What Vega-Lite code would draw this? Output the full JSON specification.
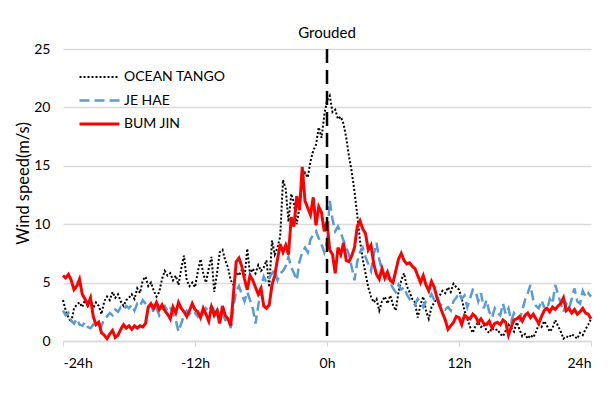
{
  "$schema": "https://vega.github.io/schema/vega-lite/v6.json",
  "width": 528,
  "height": 292,
  "autosize": "none",
  "padding": {"left": 63, "top": 49, "right": 25, "bottom": 52},
  "background": "white",
  "config": {"font": "Lato", "view": {"stroke": null}},
  "datasets": {
    "wind": [
{"t":-24,"ot":3.5,"jh":2.6,"bj":5.6},{"t":-23.75,"ot":2.6,"jh":2.2,"bj":5.4},{"t":-23.5,"ot":2.0,"jh":2.4,"bj":5.7},{"t":-23.25,"ot":1.6,"jh":1.7,"bj":5.2},
{"t":-23,"ot":2.8,"jh":1.5,"bj":4.4},{"t":-22.75,"ot":3.1,"jh":1.9,"bj":4.7},{"t":-22.5,"ot":3.3,"jh":1.4,"bj":5.3},{"t":-22.25,"ot":2.9,"jh":1.3,"bj":4.0},
{"t":-22,"ot":3.5,"jh":1.6,"bj":3.6},{"t":-21.75,"ot":3.0,"jh":1.2,"bj":3.1},{"t":-21.5,"ot":3.6,"jh":1.1,"bj":3.7},{"t":-21.25,"ot":2.8,"jh":1.4,"bj":2.1},
{"t":-21,"ot":3.3,"jh":1.2,"bj":1.4},{"t":-20.75,"ot":3.0,"jh":1.5,"bj":1.6},{"t":-20.5,"ot":2.3,"jh":1.3,"bj":0.7},{"t":-20.25,"ot":3.4,"jh":1.9,"bj":0.5},
{"t":-20,"ot":3.8,"jh":2.1,"bj":0.2},{"t":-19.75,"ot":3.5,"jh":2.4,"bj":0.6},{"t":-19.5,"ot":4.2,"jh":2.2,"bj":0.9},{"t":-19.25,"ot":3.7,"jh":2.7,"bj":0.3},
{"t":-19,"ot":4.0,"jh":2.5,"bj":0.5},{"t":-18.75,"ot":3.4,"jh":2.9,"bj":1.0},{"t":-18.5,"ot":3.0,"jh":2.7,"bj":1.4},{"t":-18.25,"ot":3.5,"jh":3.0,"bj":1.1},
{"t":-18,"ot":3.7,"jh":2.8,"bj":1.3},{"t":-17.75,"ot":4.0,"jh":3.1,"bj":1.0},{"t":-17.5,"ot":3.6,"jh":2.6,"bj":1.3},{"t":-17.25,"ot":4.5,"jh":3.2,"bj":1.1},
{"t":-17,"ot":4.1,"jh":3.0,"bj":1.3},{"t":-16.75,"ot":5.2,"jh":3.5,"bj":1.2},{"t":-16.5,"ot":5.5,"jh":3.2,"bj":1.5},{"t":-16.25,"ot":4.7,"jh":2.9,"bj":2.9},
{"t":-16,"ot":5.0,"jh":3.1,"bj":3.2},{"t":-15.75,"ot":4.3,"jh":2.4,"bj":2.8},{"t":-15.5,"ot":3.8,"jh":2.8,"bj":3.3},{"t":-15.25,"ot":4.2,"jh":2.2,"bj":2.7},
{"t":-15,"ot":5.3,"jh":2.7,"bj":3.1},{"t":-14.75,"ot":6.0,"jh":3.0,"bj":2.6},{"t":-14.5,"ot":5.6,"jh":2.6,"bj":2.3},{"t":-14.25,"ot":5.8,"jh":2.9,"bj":1.9},
{"t":-14,"ot":5.2,"jh":2.3,"bj":2.9},{"t":-13.75,"ot":5.6,"jh":1.8,"bj":2.4},{"t":-13.5,"ot":4.8,"jh":0.8,"bj":3.3},{"t":-13.25,"ot":6.2,"jh":1.5,"bj":2.8},
{"t":-13,"ot":7.3,"jh":2.2,"bj":2.5},{"t":-12.75,"ot":5.2,"jh":2.6,"bj":2.1},{"t":-12.5,"ot":4.7,"jh":2.3,"bj":2.6},{"t":-12.25,"ot":5.0,"jh":2.6,"bj":3.2},
{"t":-12,"ot":4.6,"jh":2.4,"bj":2.7},{"t":-11.75,"ot":5.9,"jh":2.1,"bj":2.5},{"t":-11.5,"ot":7.0,"jh":2.6,"bj":2.0},{"t":-11.25,"ot":5.8,"jh":2.3,"bj":2.8},
{"t":-11,"ot":5.0,"jh":2.8,"bj":2.3},{"t":-10.75,"ot":6.2,"jh":2.5,"bj":1.7},{"t":-10.5,"ot":7.2,"jh":3.0,"bj":2.9},{"t":-10.25,"ot":4.2,"jh":2.6,"bj":2.2},
{"t":-10,"ot":5.8,"jh":2.9,"bj":2.6},{"t":-9.75,"ot":7.6,"jh":2.0,"bj":1.5},{"t":-9.5,"ot":7.8,"jh":2.4,"bj":3.0},{"t":-9.25,"ot":6.9,"jh":1.8,"bj":2.2},
{"t":-9,"ot":6.3,"jh":1.9,"bj":1.9},{"t":-8.75,"ot":5.2,"jh":1.1,"bj":1.3},{"t":-8.5,"ot":4.8,"jh":3.0,"bj":4.1},{"t":-8.25,"ot":5.9,"jh":4.3,"bj":6.8},
{"t":-8,"ot":5.6,"jh":4.7,"bj":7.1},{"t":-7.75,"ot":6.1,"jh":4.0,"bj":6.4},{"t":-7.5,"ot":5.4,"jh":3.4,"bj":5.3},{"t":-7.25,"ot":7.9,"jh":4.2,"bj":4.4},
{"t":-7,"ot":5.7,"jh":3.5,"bj":5.6},{"t":-6.75,"ot":6.2,"jh":2.8,"bj":5.2},{"t":-6.5,"ot":5.8,"jh":1.5,"bj":4.6},{"t":-6.25,"ot":6.5,"jh":3.0,"bj":4.0},
{"t":-6,"ot":6.0,"jh":4.6,"bj":4.5},{"t":-5.75,"ot":6.3,"jh":5.5,"bj":3.0},{"t":-5.5,"ot":6.9,"jh":5.0,"bj":2.8},{"t":-5.25,"ot":4.6,"jh":5.4,"bj":3.1},
{"t":-5,"ot":8.6,"jh":5.8,"bj":4.8},{"t":-4.75,"ot":7.4,"jh":6.1,"bj":5.6},{"t":-4.5,"ot":8.0,"jh":5.2,"bj":7.0},{"t":-4.25,"ot":9.0,"jh":5.8,"bj":8.3},
{"t":-4,"ot":13.8,"jh":6.0,"bj":7.6},{"t":-3.75,"ot":13.0,"jh":6.4,"bj":8.2},{"t":-3.5,"ot":10.2,"jh":7.2,"bj":7.4},{"t":-3.25,"ot":12.6,"jh":6.3,"bj":10.6},
{"t":-3,"ot":11.8,"jh":5.8,"bj":9.8},{"t":-2.75,"ot":10.0,"jh":5.2,"bj":12.4},{"t":-2.5,"ot":11.5,"jh":6.8,"bj":11.2},{"t":-2.25,"ot":13.8,"jh":7.6,"bj":14.9},
{"t":-2,"ot":14.4,"jh":8.0,"bj":12.0},{"t":-1.75,"ot":14.0,"jh":7.6,"bj":11.4},{"t":-1.5,"ot":15.4,"jh":8.7,"bj":10.8},{"t":-1.25,"ot":16.3,"jh":9.1,"bj":12.3},
{"t":-1,"ot":16.8,"jh":9.4,"bj":9.9},{"t":-0.75,"ot":18.3,"jh":8.8,"bj":11.5},{"t":-0.5,"ot":17.4,"jh":8.3,"bj":11.0},{"t":-0.25,"ot":19.3,"jh":7.6,"bj":9.4},
{"t":0,"ot":20.6,"jh":8.5,"bj":10.2},{"t":0.25,"ot":21.0,"jh":12.0,"bj":7.8},{"t":0.5,"ot":19.6,"jh":10.4,"bj":7.4},{"t":0.75,"ot":19.8,"jh":9.4,"bj":5.8},
{"t":1,"ot":19.0,"jh":9.8,"bj":8.0},{"t":1.25,"ot":19.2,"jh":9.3,"bj":7.4},{"t":1.5,"ot":18.6,"jh":8.6,"bj":8.4},{"t":1.75,"ot":17.4,"jh":8.0,"bj":6.9},
{"t":2,"ot":15.8,"jh":7.4,"bj":6.8},{"t":2.25,"ot":14.5,"jh":6.3,"bj":7.3},{"t":2.5,"ot":12.8,"jh":5.2,"bj":8.0},{"t":2.75,"ot":10.8,"jh":6.8,"bj":9.8},
{"t":3,"ot":8.6,"jh":7.6,"bj":10.3},{"t":3.25,"ot":7.0,"jh":8.0,"bj":9.6},{"t":3.5,"ot":5.8,"jh":7.2,"bj":9.2},{"t":3.75,"ot":4.6,"jh":6.6,"bj":7.8},
{"t":4,"ot":3.8,"jh":6.0,"bj":8.2},{"t":4.25,"ot":3.3,"jh":7.4,"bj":6.6},{"t":4.5,"ot":3.6,"jh":8.4,"bj":5.7},{"t":4.75,"ot":2.6,"jh":7.0,"bj":5.3},
{"t":5,"ot":3.4,"jh":6.0,"bj":6.2},{"t":5.25,"ot":3.8,"jh":5.6,"bj":5.4},{"t":5.5,"ot":3.2,"jh":5.3,"bj":5.9},{"t":5.75,"ot":3.9,"jh":5.0,"bj":5.2},
{"t":6,"ot":3.1,"jh":4.5,"bj":5.0},{"t":6.25,"ot":2.6,"jh":4.2,"bj":6.0},{"t":6.5,"ot":4.2,"jh":4.8,"bj":7.0},{"t":6.75,"ot":5.2,"jh":4.4,"bj":7.5},
{"t":7,"ot":5.8,"jh":4.6,"bj":6.9},{"t":7.25,"ot":4.7,"jh":4.0,"bj":6.6},{"t":7.5,"ot":4.2,"jh":3.6,"bj":6.7},{"t":7.75,"ot":3.6,"jh":3.4,"bj":6.4},
{"t":8,"ot":3.3,"jh":3.1,"bj":6.2},{"t":8.25,"ot":2.0,"jh":3.6,"bj":5.6},{"t":8.5,"ot":3.1,"jh":3.3,"bj":5.0},{"t":8.75,"ot":3.8,"jh":2.9,"bj":5.6},
{"t":9,"ot":2.6,"jh":3.4,"bj":4.8},{"t":9.25,"ot":1.9,"jh":3.6,"bj":4.3},{"t":9.5,"ot":2.9,"jh":4.0,"bj":5.1},{"t":9.75,"ot":3.3,"jh":3.5,"bj":4.6},
{"t":10,"ot":3.6,"jh":3.8,"bj":3.7},{"t":10.25,"ot":3.9,"jh":3.2,"bj":3.0},{"t":10.5,"ot":4.3,"jh":3.0,"bj":2.4},{"t":10.75,"ot":4.1,"jh":2.7,"bj":1.8},
{"t":11,"ot":4.6,"jh":2.9,"bj":1.0},{"t":11.25,"ot":4.2,"jh":2.6,"bj":1.3},{"t":11.5,"ot":4.9,"jh":3.4,"bj":1.6},{"t":11.75,"ot":4.6,"jh":3.7,"bj":2.1},
{"t":12,"ot":4.4,"jh":4.1,"bj":2.0},{"t":12.25,"ot":3.6,"jh":3.6,"bj":1.4},{"t":12.5,"ot":2.6,"jh":3.9,"bj":2.2},{"t":12.75,"ot":1.9,"jh":2.9,"bj":2.0},
{"t":13,"ot":1.2,"jh":3.6,"bj":1.9},{"t":13.25,"ot":0.7,"jh":4.4,"bj":2.3},{"t":13.5,"ot":1.3,"jh":4.3,"bj":2.1},{"t":13.75,"ot":1.6,"jh":3.4,"bj":1.6},
{"t":14,"ot":1.2,"jh":4.1,"bj":1.9},{"t":14.25,"ot":1.4,"jh":2.8,"bj":1.5},{"t":14.5,"ot":0.9,"jh":3.5,"bj":1.4},{"t":14.75,"ot":0.7,"jh":2.5,"bj":1.7},
{"t":15,"ot":1.1,"jh":2.0,"bj":1.1},{"t":15.25,"ot":0.9,"jh":2.8,"bj":1.5},{"t":15.5,"ot":1.0,"jh":2.4,"bj":1.6},{"t":15.75,"ot":0.6,"jh":2.2,"bj":1.4},
{"t":16,"ot":0.4,"jh":3.2,"bj":1.8},{"t":16.25,"ot":0.9,"jh":2.3,"bj":1.6},{"t":16.5,"ot":1.4,"jh":2.8,"bj":0.5},{"t":16.75,"ot":1.1,"jh":1.7,"bj":1.2},
{"t":17,"ot":0.8,"jh":2.4,"bj":1.8},{"t":17.25,"ot":1.6,"jh":2.1,"bj":1.9},{"t":17.5,"ot":1.0,"jh":1.8,"bj":2.1},{"t":17.75,"ot":0.4,"jh":2.6,"bj":1.7},
{"t":18,"ot":0.6,"jh":3.5,"bj":2.2},{"t":18.25,"ot":0.2,"jh":4.1,"bj":2.4},{"t":18.5,"ot":0.5,"jh":4.8,"bj":2.0},{"t":18.75,"ot":0.3,"jh":3.5,"bj":2.3},
{"t":19,"ot":0.8,"jh":3.0,"bj":1.9},{"t":19.25,"ot":1.4,"jh":2.8,"bj":1.5},{"t":19.5,"ot":1.2,"jh":3.5,"bj":2.1},{"t":19.75,"ot":1.7,"jh":2.9,"bj":2.6},
{"t":20,"ot":1.3,"jh":2.6,"bj":2.8},{"t":20.25,"ot":0.8,"jh":3.6,"bj":2.5},{"t":20.5,"ot":1.1,"jh":3.2,"bj":2.9},{"t":20.75,"ot":1.8,"jh":4.8,"bj":2.7},
{"t":21,"ot":1.3,"jh":4.0,"bj":3.0},{"t":21.25,"ot":0.8,"jh":3.2,"bj":3.2},{"t":21.5,"ot":0.2,"jh":2.5,"bj":3.7},{"t":21.75,"ot":0.4,"jh":3.2,"bj":2.6},
{"t":22,"ot":0.3,"jh":2.8,"bj":2.8},{"t":22.25,"ot":0.6,"jh":3.6,"bj":2.4},{"t":22.5,"ot":0.4,"jh":4.5,"bj":2.7},{"t":22.75,"ot":0.2,"jh":3.4,"bj":2.3},
{"t":23,"ot":0.7,"jh":3.2,"bj":2.5},{"t":23.25,"ot":0.5,"jh":4.3,"bj":2.8},{"t":23.5,"ot":1.0,"jh":3.8,"bj":2.4},{"t":23.75,"ot":1.4,"jh":4.1,"bj":2.3},
{"t":24,"ot":1.9,"jh":3.8,"bj":1.9}
    ],
    "marker": [{"t": 0, "top": 25, "bottom": 0, "label": "Grouded"}]
  },
  "layer": [
    {
      "data": {"name": "wind"},
      "transform": [{"fold": ["ot", "jh", "bj"], "as": ["k", "v"]}],
      "mark": {"type": "line", "interpolate": "linear"},
      "encoding": {
        "x": {
          "field": "t", "type": "quantitative",
          "scale": {"domain": [-24, 24], "nice": false},
          "axis": {
            "values": [-24, -12, 0, 12, 24],
            "labelExpr": "datum.value + 'h'",
            "title": null, "grid": false,
            "domainColor": "#d9d9d9", "domainWidth": 1.5,
            "tickColor": "#d9d9d9", "tickSize": 5,
            "labelFontSize": 14, "labelColor": "#000000", "labelPadding": 10
          }
        },
        "y": {
          "field": "v", "type": "quantitative",
          "scale": {"domain": [0, 25], "nice": false},
          "axis": {
            "values": [0, 5, 10, 15, 20, 25],
            "title": "Wind speed(m/s)", "titleFontSize": 16.5, "titleFontWeight": "normal",
            "titleColor": "#000000", "titlePadding": 2, "titleY": 134,
            "grid": true, "gridColor": "#d9d9d9", "gridWidth": 1.5,
            "domain": false, "ticks": false,
            "labelFontSize": 14, "labelColor": "#000000", "labelPadding": 13
          }
        },
        "color": {
          "field": "k", "type": "nominal",
          "scale": {"domain": ["ot", "jh", "bj"], "range": ["#000000", "#5b9bd5", "#ff0000"]},
          "legend": {
            "title": null, "orient": "none", "legendX": 15, "legendY": 20,
            "symbolType": "stroke", "symbolSize": 1600, "labelFontSize": 14,
            "clipHeight": 16,
            "labelColor": "#000000", "rowPadding": 7.5, "padding": 0, "labelOffset": 3,
            "labelExpr": "datum.label == 'ot' ? 'OCEAN TANGO' : datum.label == 'jh' ? 'JE HAE' : 'BUM JIN'"
          }
        },
        "strokeDash": {
          "field": "k", "type": "nominal",
          "scale": {"domain": ["ot", "jh", "bj"], "range": [[2, 2], [10, 5], [1, 0]]},
          "legend": null
        },
        "strokeWidth": {
          "field": "k", "type": "nominal",
          "scale": {"domain": ["ot", "jh", "bj"], "range": [2, 3, 3]},
          "legend": null
        }
      }
    },
    {
      "data": {"name": "marker"},
      "mark": {"type": "rule", "color": "#000000", "strokeWidth": 2.5, "strokeDash": [14, 7]},
      "encoding": {
        "x": {"field": "t", "type": "quantitative"},
        "y": {"field": "top", "type": "quantitative"},
        "y2": {"field": "bottom"}
      }
    },
    {
      "data": {"name": "marker"},
      "mark": {"type": "text", "fontSize": 15, "color": "#000000", "dy": -16, "baseline": "middle", "align": "center"},
      "encoding": {
        "x": {"field": "t", "type": "quantitative"},
        "y": {"field": "top", "type": "quantitative"},
        "text": {"field": "label"}
      }
    }
  ]
}
